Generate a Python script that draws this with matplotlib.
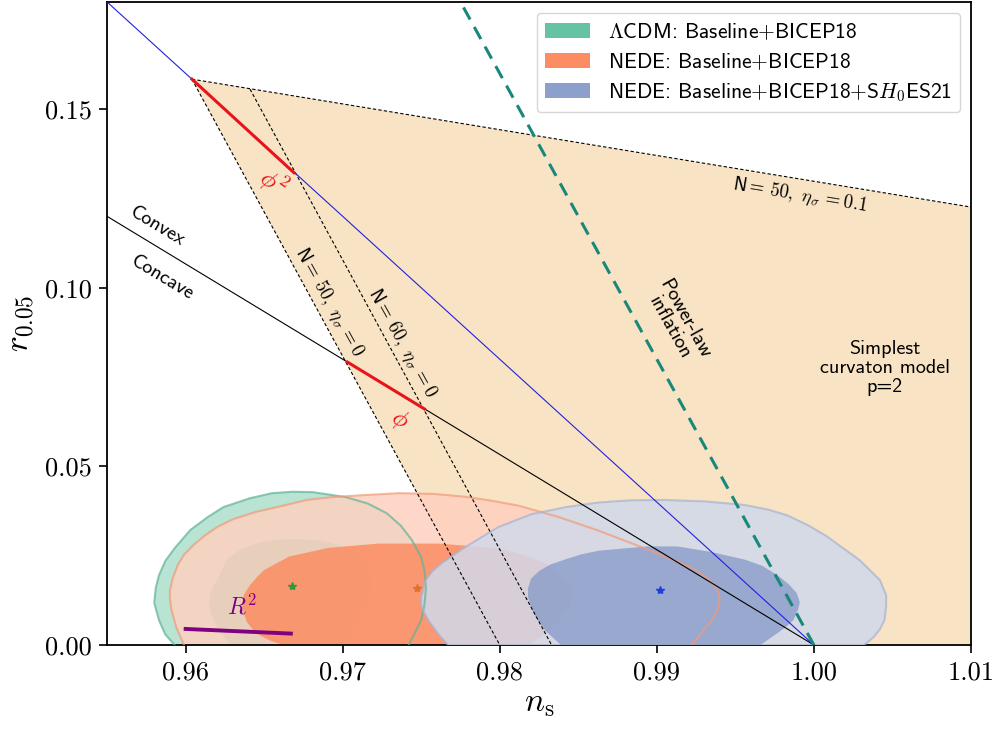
import matplotlib
matplotlib.use('Agg')
import matplotlib.pyplot as plt
from matplotlib.patches import Patch

plt.rcParams['font.family'] = 'serif'
plt.rcParams['font.serif'] = ['cmr10']
plt.rcParams['mathtext.fontset'] = 'cm'
plt.rcParams['axes.formatter.use_mathtext'] = True

# --- inflation model lines (n_s, r) ---
ns_linear = [0.955, 1.0]        # convex/concave boundary
r_linear = [0.12, 0.0]
ns_quad = [0.955, 1.0]          # blue line through phi^2
r_quad = [0.18, 0.0]
ns_powerlaw = [1.0, 0.9775]
r_powerlaw = [0.0, 0.18]
ns_phi2 = [0.9604, 0.9669]
r_phi2 = [0.1584, 0.1322]
ns_phi = [0.9703, 0.9752]
r_phi = [0.0792, 0.0661]
ns_R2 = [0.9600, 0.9667]
r_R2 = [0.0045, 0.0032]

# --- curvaton model p=2 ---
ns_N50_eta0 = [0.9604, 0.9800]
r_N50_eta0 = [0.1584, 0.0]
ns_N60_eta0 = [0.9641, 0.9833]
r_N60_eta0 = [0.1556, 0.0]
ns_N50_eta01 = [0.9604, 1.01]
r_N50_eta01 = [0.1584, 0.1226]
ns_curvaton = [0.9604, 1.01, 1.01, 0.9800]
r_curvaton = [0.1584, 0.1226, 0.0, 0.0]

# --- posterior contours (95% outer, 68% inner) ---
lcdm_ns_95 = [0.9593, 0.9587, 0.9583, 0.9580, 0.9581, 0.9583, 0.9587, 0.9593, 0.9603, 0.9614,
              0.9624, 0.9641, 0.9655, 0.9668, 0.9681, 0.9702, 0.9716, 0.9728, 0.9737, 0.9744,
              0.9750, 0.9752, 0.9753, 0.9752, 0.9750, 0.9746, 0.9742]
lcdm_r_95 = [0.0, 0.0030, 0.0070, 0.0118, 0.0160, 0.0195, 0.0235, 0.0271, 0.0322, 0.0358,
             0.0386, 0.0411, 0.0425, 0.0429, 0.0428, 0.0414, 0.0396, 0.0369, 0.0334, 0.0294,
             0.0246, 0.0210, 0.0160, 0.0110, 0.0070, 0.0034, 0.0]
lcdm_ns_68 = [0.9628, 0.9620, 0.9616, 0.9615, 0.9616, 0.9620, 0.9626, 0.9634, 0.9645, 0.9658,
              0.9672, 0.9686, 0.9698, 0.9708, 0.9715, 0.9719, 0.9719, 0.9717, 0.9713, 0.9708,
              0.9702]
lcdm_r_68 = [0.0, 0.0050, 0.0090, 0.0118, 0.0150, 0.0182, 0.0238, 0.0265, 0.0285, 0.0295,
             0.0297, 0.0292, 0.0280, 0.0260, 0.0229, 0.0190, 0.0154, 0.0120, 0.0090, 0.0050,
             0.0]
lcdm_best = (0.9668, 0.0165)

nede_ns_95 = [0.9599, 0.9594, 0.9591, 0.9590, 0.9590, 0.9592, 0.9595, 0.9599, 0.9605, 0.9612,
              0.9620, 0.9630, 0.9645, 0.9662, 0.9677, 0.9693, 0.9715, 0.9736, 0.9758, 0.9778,
              0.9796, 0.9812, 0.9837, 0.9863, 0.9888, 0.9913, 0.9924, 0.9931, 0.9936, 0.9939,
              0.9940, 0.9939, 0.9937, 0.9934, 0.9928, 0.9922]
nede_r_95 = [0.0, 0.0050, 0.0098, 0.0130, 0.0154, 0.0190, 0.0224, 0.0253, 0.0280, 0.0306,
             0.0330, 0.0352, 0.0373, 0.0390, 0.0406, 0.0414, 0.0420, 0.0425, 0.0423, 0.0415,
             0.0403, 0.0390, 0.0359, 0.0320, 0.0278, 0.0234, 0.0212, 0.0191, 0.0170, 0.0148,
             0.0125, 0.0104, 0.0084, 0.0064, 0.0030, 0.0]
nede_ns_68 = [0.9662, 0.9654, 0.9648, 0.9643, 0.9639, 0.9637, 0.9636, 0.9637, 0.9641, 0.9646,
              0.9650, 0.9666, 0.9691, 0.9723, 0.9761, 0.9793, 0.9806, 0.9818, 0.9829, 0.9837,
              0.9843, 0.9846, 0.9846, 0.9845, 0.9839, 0.9834, 0.9828, 0.9818]
nede_r_68 = [0.0, 0.0012, 0.0025, 0.0042, 0.0064, 0.0090, 0.0112, 0.0140, 0.0168, 0.0193,
             0.0210, 0.0248, 0.0272, 0.0284, 0.0284, 0.0273, 0.0264, 0.0248, 0.0228, 0.0206,
             0.0180, 0.0154, 0.0133, 0.0112, 0.0073, 0.0050, 0.0028, 0.0]
nede_best = (0.9747, 0.0160)

sh0es_ns_95 = [0.9767, 0.9762, 0.9759, 0.9755, 0.9752, 0.9750, 0.9750, 0.9753, 0.9757, 0.9763,
               0.9778, 0.9799, 0.9820, 0.9842, 0.9863, 0.9883, 0.9905, 0.9931, 0.9956, 0.9971,
               0.9983, 0.9996, 1.0008, 1.0029, 1.0042, 1.0046, 1.0046, 1.0045, 1.0042, 1.0038,
               1.0032]
sh0es_r_95 = [0.0, 0.0025, 0.0042, 0.0066, 0.0090, 0.0112, 0.0134, 0.0182, 0.0206, 0.0229,
              0.0274, 0.0330, 0.0366, 0.0386, 0.0399, 0.0405, 0.0406, 0.0402, 0.0392, 0.0379,
              0.0363, 0.0336, 0.0305, 0.0238, 0.0182, 0.0140, 0.0110, 0.0070, 0.0044, 0.0022,
              0.0]
sh0es_ns_68 = [0.9839, 0.9834, 0.9829, 0.9823, 0.9820, 0.9818, 0.9818, 0.9820, 0.9825, 0.9832,
               0.9842, 0.9852, 0.9863, 0.9894, 0.9913, 0.9934, 0.9956, 0.9967, 0.9977, 0.9984,
               0.9989, 0.9991, 0.9990, 0.9987, 0.9982, 0.9977, 0.9966]
sh0es_r_68 = [0.0, 0.0020, 0.0040, 0.0078, 0.0106, 0.0134, 0.0160, 0.0186, 0.0207, 0.0225,
              0.0240, 0.0254, 0.0264, 0.0276, 0.0276, 0.0261, 0.0239, 0.0222, 0.0195, 0.0170,
              0.0146, 0.0120, 0.0100, 0.0070, 0.0050, 0.0034, 0.0]
sh0es_best = (0.9902, 0.0154)

labels = [r'$\Lambda$CDM: Baseline$+$BICEP18',
          r'NEDE: Baseline$+$BICEP18',
          r'NEDE: Baseline$+$BICEP18$+$S$H_0$ES21']
base_cols = ['#66c2a5', '#fc8d62', '#8da0cb']
light_cols = ['#addfcc', '#fed1c0', '#d1d9ea']
edge_cols = ['#5fb398', '#f29a78', '#a7b2d2']
star_cols = ['#2e9a3a', '#e0702a', '#1f3fe0']

sans = 'cmss10'

fig = plt.figure(figsize=(10.01, 7.42), dpi=100)
ax = fig.add_axes([0.107, 0.1307, 0.863, 0.8666])

ax.fill(ns_curvaton, r_curvaton, color='#f8e4c4', lw=0, zorder=0.5)

contours = [(lcdm_ns_95, lcdm_r_95, lcdm_ns_68, lcdm_r_68),
            (nede_ns_95, nede_r_95, nede_ns_68, nede_r_68),
            (sh0es_ns_95, sh0es_r_95, sh0es_ns_68, sh0es_r_68)]
for i, (x95, y95, x68, y68) in enumerate(contours):
    ax.fill(x95, y95, color=light_cols[i], alpha=0.85, lw=0, zorder=1 + i)
    ax.fill(x68, y68, color=base_cols[i], alpha=0.85, lw=0, zorder=1 + i)
for i, (x95, y95, x68, y68) in enumerate(contours):
    ax.plot(x95, y95, color=edge_cols[i], alpha=0.7, lw=1.5, zorder=4,
            solid_joinstyle='round')

dash = (0, (3, 2))
ax.plot(ns_N50_eta0, r_N50_eta0, color='k', lw=0.8, ls=dash, zorder=5)
ax.plot(ns_N60_eta0, r_N60_eta0, color='k', lw=0.8, ls=dash, zorder=5)
ax.plot(ns_N50_eta01, r_N50_eta01, color='k', lw=0.8, ls=dash, zorder=5)
ax.plot(ns_linear, r_linear, color='k', lw=0.8, zorder=5)
ax.plot(ns_quad, r_quad, color='#2222dd', lw=0.8, zorder=5)
ax.plot(ns_powerlaw, r_powerlaw, color='#19877a', lw=2.2, ls=(0, (4.5, 2.8)), zorder=5,
        clip_on=False)
ax.plot(ns_phi2, r_phi2, color='#e8141a', lw=2.2, zorder=6)
ax.plot(ns_phi, r_phi, color='#e8141a', lw=2.2, zorder=6)
ax.plot(ns_R2, r_R2, color='purple', lw=2.8, zorder=6)

for (x, y), c in zip([lcdm_best, nede_best, sh0es_best], star_cols):
    ax.plot(x, y, marker='*', color=c, ms=6, ls='none', zorder=7)

kw = dict(ha='center', va='center', rotation_mode='anchor', zorder=8)
ax.text(0.9582, 0.1172, 'Convex', family=sans, fontsize=14.5, rotation=-31, **kw)
ax.text(0.9585, 0.1028, 'Concave', family=sans, fontsize=14.5, rotation=-31, **kw)
ax.text(0.9656, 0.1295, r'$\phi^2$', color='#e8141a', fontsize=18, rotation=-36, **kw)
ax.text(0.9736, 0.0630, r'$\phi$', color='#e8141a', fontsize=18, rotation=-30, **kw)
ax.text(0.9691, 0.0960, r'N$=\,50,\ \eta_\sigma\,=0$', family=sans, fontsize=13.5, rotation=-61, **kw)
ax.text(0.9738, 0.0845, r'N$=\,60,\ \eta_\sigma\,=0$', family=sans, fontsize=13.5, rotation=-61, **kw)
ax.text(0.9991, 0.1259, r'N$=\,50,\ \eta_\sigma\,=0.1$', family=sans, fontsize=13.5, rotation=-9.3, **kw)
ax.text(0.9913, 0.0901, 'Power-law\ninflation', family=sans, fontsize=14.5, rotation=-61,
        linespacing=1.0, **kw)
ax.text(1.0045, 0.0775, 'Simplest\ncurvaton model\np=2', family=sans, fontsize=14.5,
        linespacing=1.05, ha='center', va='center', zorder=8)
ax.text(0.9636, 0.0106, r'$R^2$', color='purple', fontsize=17, ha='center', va='center', zorder=8)

ax.set_xlim(0.955, 1.01)
ax.set_ylim(0.0, 0.18)
ax.set_xticks([0.96, 0.97, 0.98, 0.99, 1.00, 1.01])
ax.set_yticks([0.00, 0.05, 0.10, 0.15])
ax.set_xticklabels(['0.96', '0.97', '0.98', '0.99', '1.00', '1.01'])
ax.set_yticklabels(['0.00', '0.05', '0.10', '0.15'])
ax.tick_params(labelsize=19, length=6, width=1.2, pad=5)
for s in ax.spines.values():
    s.set_linewidth(1.3)
ax.set_xlabel(r'$n_{\rm s}$', fontsize=24, labelpad=4)
ax.set_ylabel(r'$r_{0.05}$', fontsize=24, labelpad=6)

handles = [Patch(facecolor=c, edgecolor='none') for c in base_cols]
ax.legend(handles, labels, loc='upper right', prop={'family': sans, 'size': 15.5},
          handlelength=2.1, handleheight=0.7, labelspacing=0.42, borderpad=0.4)

fig.savefig('out.png', dpi=100)
